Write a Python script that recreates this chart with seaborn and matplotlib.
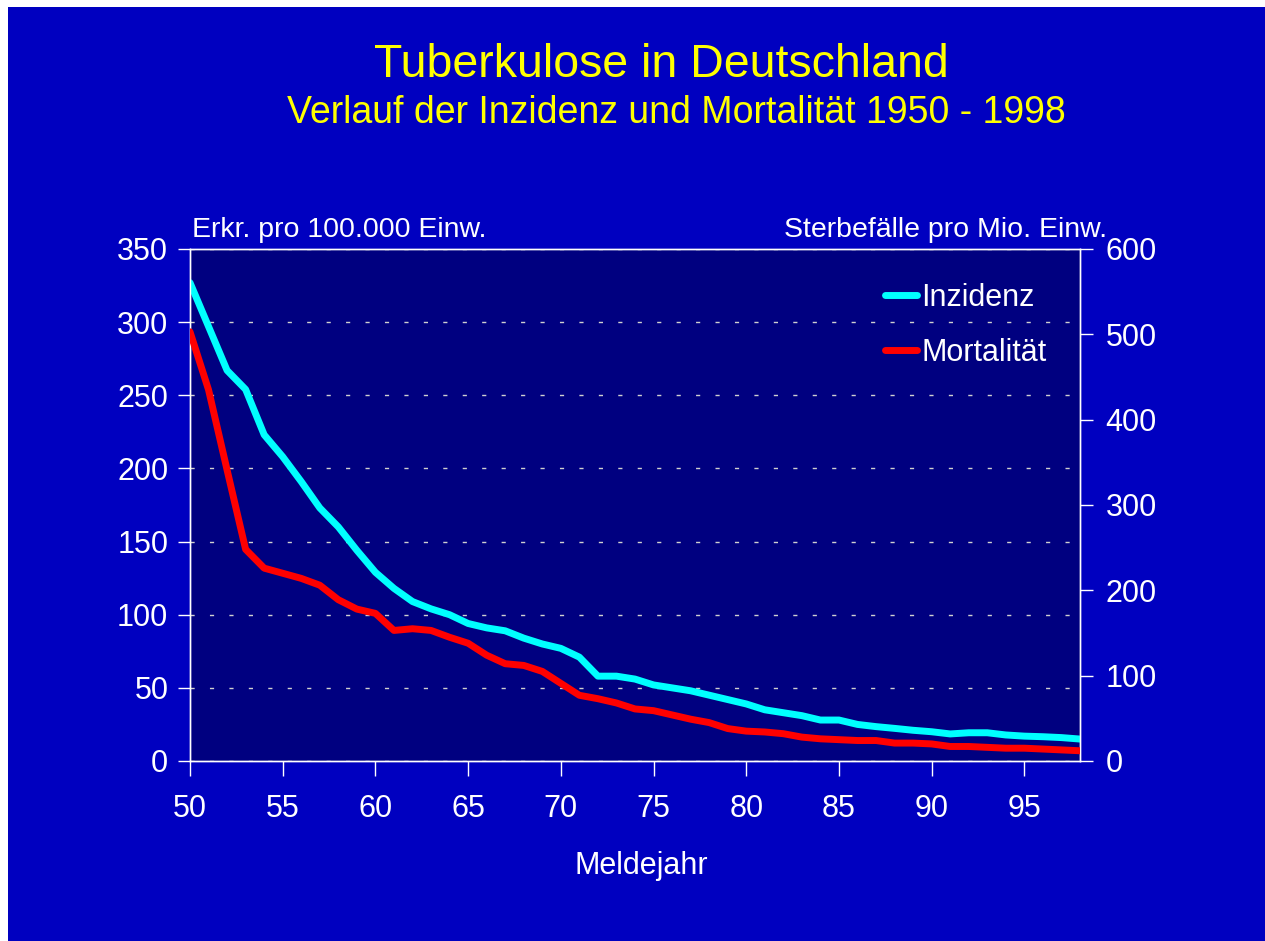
import matplotlib
matplotlib.use("Agg")
import matplotlib.pyplot as plt
import seaborn as sns
from matplotlib.patches import Rectangle

# Meldejahr (zweistellig) und Werte
jahre = list(range(50, 99))
inzidenz = [327, 297, 267, 254, 223, 208, 191, 173, 160, 144,
            129, 118, 109, 104, 100, 94, 91, 89, 84, 80,
            77, 71, 58, 58, 56, 52, 50, 48, 45, 42,
            39, 35, 33, 31, 28, 28, 25, 23.5, 22.3, 21,
            20, 18.5, 19.3, 19.3, 17.8, 17, 16.6, 16, 15]
mortalitaet = [503, 435, 341, 248, 226, 220, 214, 206, 189, 178,
               173, 153, 155, 153, 145, 138, 124, 114, 112, 105,
               91, 77, 73, 68, 61, 59, 54, 49, 45, 38,
               35, 34, 32, 28, 26, 25, 24, 24, 21, 21,
               20, 17, 17, 16, 15, 15, 14, 13, 12]
x_ticks = [50, 55, 60, 65, 70, 75, 80, 85, 90, 95]
y_links = [0, 50, 100, 150, 200, 250, 300, 350]
y_rechts = [0, 100, 200, 300, 400, 500, 600]

sns.set_theme(style="dark")
plt.rcParams['font.family'] = ['Liberation Sans', 'DejaVu Sans']

BG = '#0000C0'
PLOT_BG = '#000080'
WEISS = 'white'

fig = plt.figure(figsize=(12.65, 9.41), dpi=100)
fig.patch.set_facecolor(WEISS)
# blaue Folie mit schmalem weissen Rand oben/links
fig.patches.append(Rectangle((8 / 1265, -0.05), 1.1, 1.05 - 7 / 941, transform=fig.transFigure,
                             facecolor=BG, edgecolor='none', zorder=-10))

ax = fig.add_axes([190 / 1265, 1 - 761 / 941, 890 / 1265, 512 / 941])
ax.set_facecolor(PLOT_BG)
ax2 = ax.twinx()

sns.lineplot(x=jahre, y=inzidenz, ax=ax, color='#00FFFF', linewidth=5,
             solid_capstyle='round', solid_joinstyle='round', zorder=3)
sns.lineplot(x=jahre, y=mortalitaet, ax=ax2, color='#FF0000', linewidth=5,
             solid_capstyle='round', solid_joinstyle='round', zorder=3)

ax.set_xlim(50, 98)
ax.set_ylim(0, 350)
ax2.set_ylim(0, 600)
ax.set_xticks(x_ticks)
ax.set_yticks(y_links)
ax2.set_yticks(y_rechts)
ax.set_xlabel('')
ax.set_ylabel('')
ax2.set_ylabel('')

# gestrichelte Gitterlinien
ax.grid(False)
ax2.grid(False)
ax.yaxis.grid(True, color='#D0D0D0', linewidth=1, linestyle=(0, (3, 11)))
ax.set_axisbelow(True)

for a in (ax, ax2):
    for s in a.spines.values():
        s.set_visible(True)
        s.set_color(WEISS)
        s.set_linewidth(1)

ax.tick_params(axis='y', which='both', left=True, direction='out', length=8.6, width=1,
               color=WEISS, labelcolor=WEISS, labelsize=22, pad=7)
ax.tick_params(axis='x', which='both', bottom=True, direction='out', length=10.5, width=1,
               color=WEISS, labelcolor=WEISS, labelsize=22, pad=13)
ax2.tick_params(axis='y', which='both', right=True, direction='out', length=9.4, width=1,
                color=WEISS, labelcolor=WEISS, labelsize=22, pad=9)

# Achsentitel
ax.text(0.002, 1.012, 'Erkr. pro 100.000 Einw.', transform=ax.transAxes,
        color=WEISS, fontsize=20.5, ha='left', va='bottom')
ax.text(1.031, 1.012, 'Sterbefälle pro Mio. Einw.', transform=ax.transAxes,
        color=WEISS, fontsize=20.5, ha='right', va='bottom')
fig.text(641 / 1265, 1 - 866 / 941, 'Meldejahr', color=WEISS, fontsize=22,
         ha='center', va='center')

# Titel
fig.text(661 / 1265, 1 - 77 / 941, 'Tuberkulose in Deutschland', color='#FFFF00',
         fontsize=33.5, ha='center', va='baseline')
fig.text(676 / 1265, 1 - 123 / 941, 'Verlauf der Inzidenz und Mortalität 1950 - 1998',
         color='#FFFF00', fontsize=27, ha='center', va='baseline')

# Legende
h1 = ax.get_lines()[0]
h2 = ax2.get_lines()[0]
leg = ax2.legend([h1, h2], ['Inzidenz', 'Mortalität'], loc='upper left',
                 bbox_to_anchor=(0.767, 0.958), frameon=False, fontsize=22,
                 handlelength=1.05, handletextpad=0.15, labelspacing=0.82,
                 borderaxespad=0)
for t in leg.get_texts():
    t.set_color(WEISS)

fig.savefig('out.png', dpi=100, facecolor=fig.get_facecolor())
